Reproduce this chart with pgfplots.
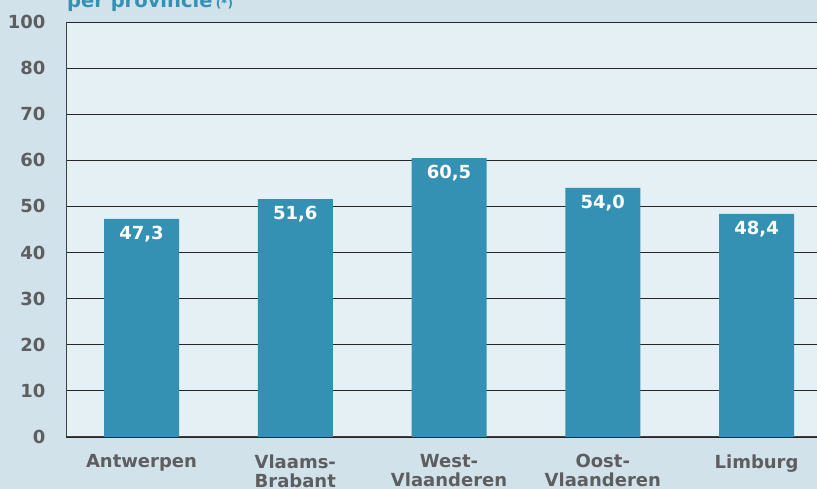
\documentclass[border=0pt]{standalone}
\usepackage{pgfplots}
\pgfplotsset{compat=1.18}
\usepackage{fontspec}
\setmainfont{DejaVu Sans}
\definecolor{barblue}{HTML}{3591B3}
\definecolor{outerbg}{HTML}{D1E2EB}
\definecolor{plotbg}{HTML}{E5F0F5}
\definecolor{labelgray}{HTML}{5E5E60}

\begin{document}
\begin{tikzpicture}[x=1pt,y=1pt]
\fill[outerbg] (0,0) rectangle (817,489);
\useasboundingbox (0,0) rectangle (817,489);
\node[anchor=base west, inner sep=0pt, text=barblue, font=\bfseries\fontsize{19.5}{20}\selectfont]
  at (67,481) {per provincie\,{\fontsize{12}{12}\selectfont(*)}};
\begin{axis}[
 at={(66pt,52pt)}, anchor=south west,
 scale only axis, width=751pt, height=415pt,
 xmin=-0.491, xmax=4.393, ymin=0, ymax=90,
 ytick={0,10,...,90}, yticklabels={0,10,20,30,40,50,60,70,80,100},
 xtick={0,...,4},
 xticklabels={Antwerpen,Vlaams-\\Brabant,West-\\Vlaanderen,Oost-\\Vlaanderen,Limburg},
 major tick length=0pt,
 axis x line=bottom, axis y line=left,
 axis line style={-, draw=black!75, line width=1pt},
 ymajorgrids, grid style={black!85, line width=0.8pt},
 axis background/.style={fill=plotbg},
 tick label style={text=labelgray, font=\bfseries\fontsize{18}{19}\selectfont},
 xticklabel style={align=center, yshift=-14pt},
 yticklabel style={anchor=east, xshift=-17pt},
 ybar, bar width=75pt,
 nodes near coords,
 nodes near coords style={anchor=north, yshift=-4pt, text=white,
   font=\bfseries\fontsize{18}{18}\selectfont,
   /pgf/number format/.cd, fixed, fixed zerofill, precision=1, use comma, assume math mode=true},
]
\addplot[fill=barblue, draw=none] coordinates {(0,47.3) (1,51.6) (2,60.5) (3,54.0) (4,48.4)};
\end{axis}
\end{tikzpicture}
\end{document}
